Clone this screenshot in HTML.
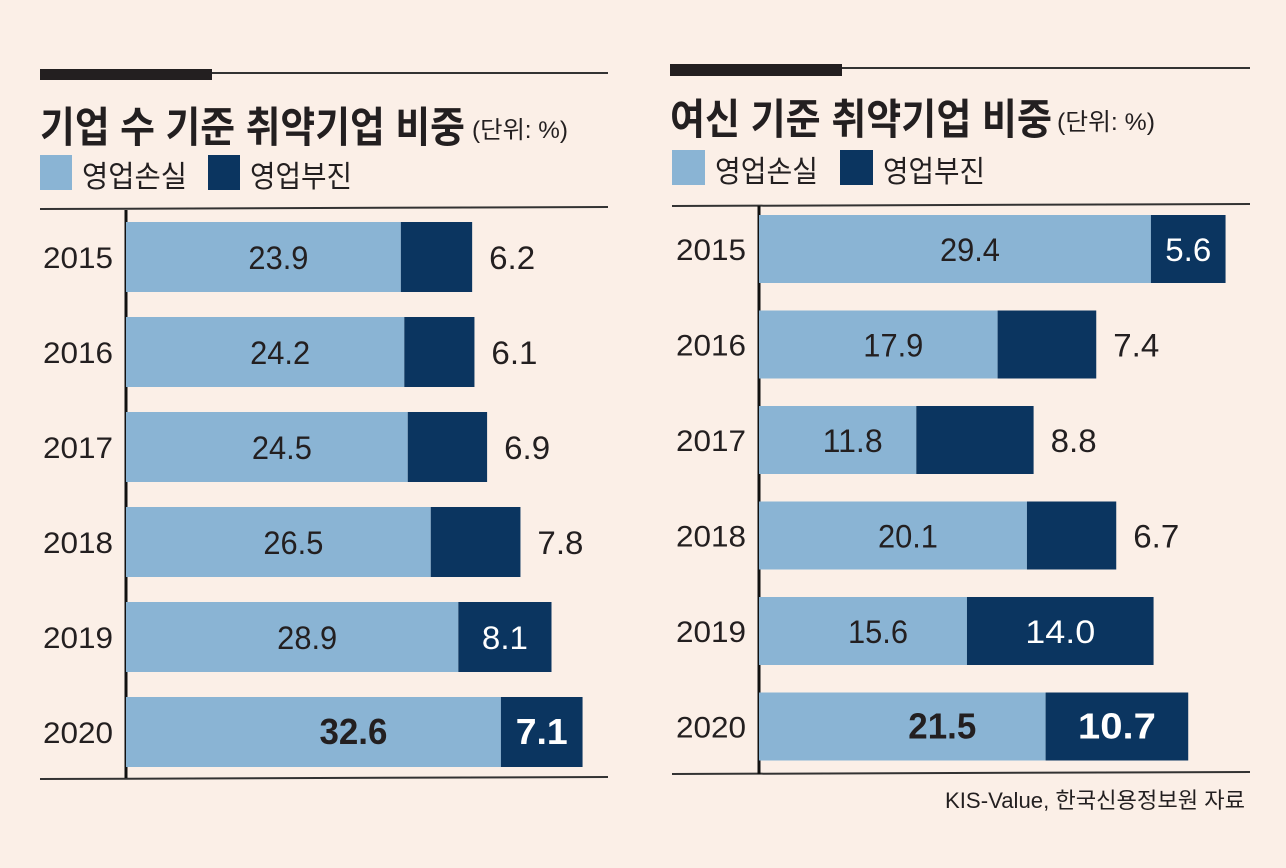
<!DOCTYPE html>
<html><head><meta charset="utf-8"><style>
html,body{margin:0;padding:0;background:#fbefe7;}
svg{display:block;font-family:"Liberation Sans","Noto Sans CJK KR",sans-serif;}
</style></head><body>
<svg id="chart" width="1286" height="868" viewBox="0 0 1286 868">
<rect width="1286" height="868" fill="#fbefe7"/>
<g>
<rect x="40" y="69" width="172" height="11" fill="#231f20"/>
<line x1="212" y1="73" x2="608" y2="73" stroke="#333" stroke-width="2"/>
<text x="40" y="142" font-size="42" font-weight="bold" fill="#231f20" textLength="425" lengthAdjust="spacingAndGlyphs">기업 수 기준 취약기업 비중</text>
<text x="472" y="138" font-size="24" fill="#231f20" textLength="96" lengthAdjust="spacingAndGlyphs">(단위: %)</text>
<rect x="40" y="155" width="32" height="35" fill="#8ab4d4"/>
<text x="82" y="187" font-size="30" fill="#231f20" textLength="105" lengthAdjust="spacingAndGlyphs">영업손실</text>
<rect x="208" y="155" width="32" height="35" fill="#0b3560"/>
<text x="250" y="187" font-size="30" fill="#231f20" textLength="102" lengthAdjust="spacingAndGlyphs">영업부진</text>
<line x1="40" y1="209" x2="608" y2="207" stroke="#333" stroke-width="2"/>
<line x1="40" y1="779" x2="608" y2="777" stroke="#333" stroke-width="2"/>
</g>
<g>
<rect x="670" y="64" width="172" height="12" fill="#231f20"/>
<line x1="842" y1="68" x2="1250" y2="68" stroke="#333" stroke-width="2"/>
<text x="670" y="134" font-size="42" font-weight="bold" fill="#231f20" textLength="382" lengthAdjust="spacingAndGlyphs">여신 기준 취약기업 비중</text>
<text x="1057" y="130" font-size="24" fill="#231f20" textLength="98" lengthAdjust="spacingAndGlyphs">(단위: %)</text>
<rect x="672" y="150" width="33" height="35" fill="#8ab4d4"/>
<text x="715" y="182" font-size="30" fill="#231f20" textLength="103" lengthAdjust="spacingAndGlyphs">영업손실</text>
<rect x="840" y="150" width="33" height="35" fill="#0b3560"/>
<text x="883" y="182" font-size="30" fill="#231f20" textLength="102" lengthAdjust="spacingAndGlyphs">영업부진</text>
<line x1="672" y1="206" x2="1250" y2="204" stroke="#333" stroke-width="2"/>
<line x1="672" y1="774" x2="1250" y2="772" stroke="#333" stroke-width="2"/>
<text x="1245" y="808" font-size="22" fill="#231f20" text-anchor="end" textLength="300" lengthAdjust="spacingAndGlyphs">KIS-Value, 한국신용정보원 자료</text>
</g>
<g id="plots"></g>
</svg>
<script>
const years = ["2015","2016","2017","2018","2019","2020"];
const leftLoss = [23.9,24.2,24.5,26.5,28.9,32.6];
const leftWeak = [6.2,6.1,6.9,7.8,8.1,7.1];
const leftInside = [false,false,false,false,true,true];
const rightLoss = [29.4,17.9,11.8,20.1,15.6,21.5];
const rightWeak = [5.6,7.4,8.8,6.7,14.0,10.7];
const rightInside = [true,false,false,false,true,true];

const NS="http://www.w3.org/2000/svg";
const plots=document.getElementById('plots');
function mk(tag,attrs,txt){const e=document.createElementNS(NS,tag);for(const k in attrs)e.setAttribute(k,attrs[k]);if(txt!==undefined)e.textContent=txt;return e;}
function fmt(v){return v.toFixed(1);}
function drawPanel(side,cfg,loss,weak,inside){
  const g=mk('g',{});
  
  
  plots.appendChild(g);
  const x=v=>cfg.x0+v*cfg.scale;
  const y=i=>cfg.y0+i*cfg.step;
  const axis=mk('line',{x1:cfg.x0,y1:cfg.axTop,x2:cfg.x0,y2:cfg.axBot,stroke:'#111','stroke-width':3});
  
  
  g.appendChild(axis);
  years.forEach((yr,i)=>{
    const top=y(i), h=cfg.h, bold=i===years.length-1;
    const yl=mk('text',{x:cfg.yearX,y:top+h/2+11,'font-size':30,fill:'#231f20','text-anchor':'middle',textLength:70,lengthAdjust:'spacingAndGlyphs'},yr);
    
    
    g.appendChild(yl);
    const b1=mk('rect',{x:x(0),y:top,width:x(loss[i])-x(0),height:h,fill:'#8ab4d4'});
    
    
    g.appendChild(b1);
    const b2=mk('rect',{x:x(loss[i]),y:top,width:x(loss[i]+weak[i])-x(loss[i]),height:h,fill:'#0b3560'});
    
    
    g.appendChild(b2);
    const fs=bold?36:32, tw=bold?68:60;
    const l1=mk('text',{x:(x(0)+x(loss[i]))/2+(bold?40:15),y:top+h/2+12,'font-size':fs,'font-weight':bold?'bold':'normal',fill:'#231f20','text-anchor':'middle',textLength:tw,lengthAdjust:'spacingAndGlyphs'},fmt(loss[i]));
    
    
    g.appendChild(l1);
    const t=fmt(weak[i]), w2=t.length>3?tw+10:(bold?52:46);
    let l2;
    if(inside[i]) l2=mk('text',{x:(x(loss[i])+x(loss[i]+weak[i]))/2,y:top+h/2+12,'font-size':fs,'font-weight':bold?'bold':'normal',fill:'#fff','text-anchor':'middle',textLength:w2,lengthAdjust:'spacingAndGlyphs'},t);
    else l2=mk('text',{x:x(loss[i]+weak[i])+17,y:top+h/2+12,'font-size':fs,fill:'#231f20',textLength:w2,lengthAdjust:'spacingAndGlyphs'},t);
    
    
    g.appendChild(l2);
  });
}
drawPanel('left',{x0:126,scale:11.5,y0:222,step:95,h:70,axTop:210,axBot:778,yearX:78},leftLoss,leftWeak,leftInside);
drawPanel('right',{x0:759,scale:13.33,y0:215,step:95.5,h:68,axTop:206,axBot:774,yearX:711},rightLoss,rightWeak,rightInside);
</script>
</body></html>
